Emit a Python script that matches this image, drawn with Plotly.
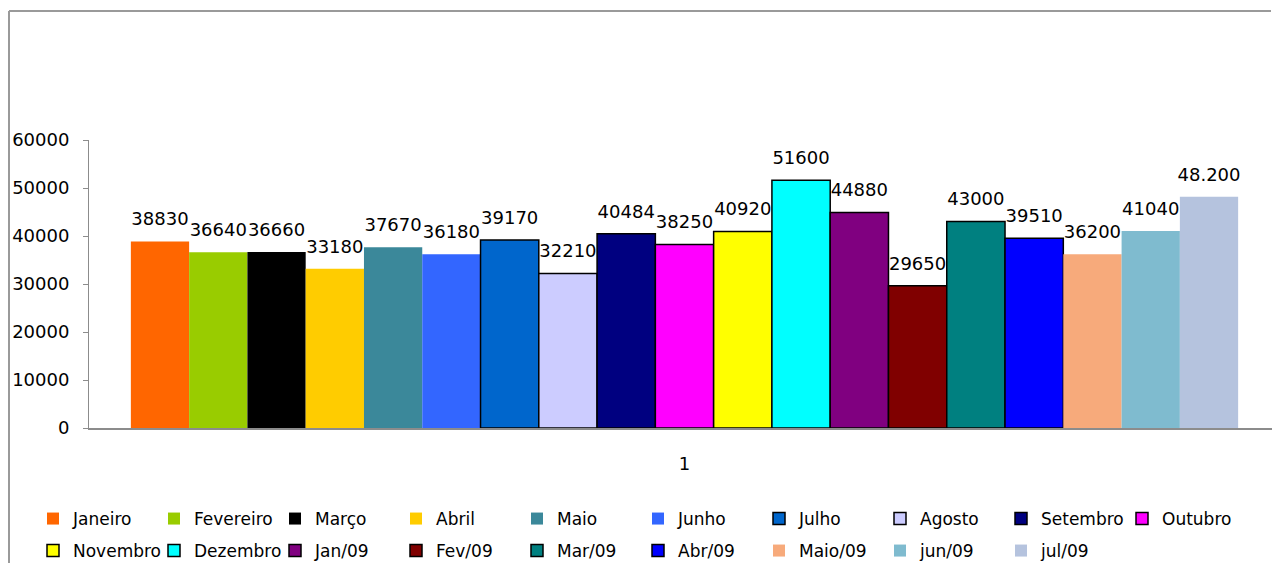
import plotly.graph_objects as go

# Monthly totals, one bar per month, all grouped under the single category "1"
category = ["1"]
months = ["Janeiro", "Fevereiro", "Março", "Abril", "Maio", "Junho", "Julho",
          "Agosto", "Setembro", "Outubro", "Novembro", "Dezembro", "Jan/09",
          "Fev/09", "Mar/09", "Abr/09", "Maio/09", "jun/09", "jul/09"]
values = [38830, 36640, 36660, 33180, 37670, 36180, 39170, 32210, 40484, 38250,
          40920, 51600, 44880, 29650, 43000, 39510, 36200, 41040, 48200]
labels = [str(v) for v in values[:-1]] + [f"{values[-1]:,}".replace(",", ".")]
colors = ["#FF6600", "#99CC00", "#000000", "#FFCC00", "#3B889A", "#3366FF",
          "#0066CC", "#CCCCFF", "#000080", "#FF00FF", "#FFFF00", "#00FFFF",
          "#800080", "#800000", "#008080", "#0000FF", "#F7AA7B", "#7FBBCF",
          "#B5C3DE"]
outlined = [False, False, False, False, False, False, True, True, True, True,
            True, True, True, True, True, True, False, False, False]
y_ticks = [0, 10000, 20000, 30000, 40000, 50000, 60000]

W, H = 1272, 563
ML, MR, MT, MB = 89, 0, 140, 135
PW, PH = W - ML - MR, H - MT - MB
FONT = "DejaVu Sans"
GAP = 0.064


def px_x(px):
    return (px - ML) / PW


def px_y(py):
    return (H - MB - py) / PH


fig = go.Figure()
for i, (m, v, c, o) in enumerate(zip(months, values, colors, outlined)):
    fig.add_trace(go.Bar(
        x=category, y=[v], name=m,
        marker=dict(color=c, line=dict(color="#000000", width=1.5 if o else 0)),
        legend="legend" if i < 10 else "legend2",
        hovertemplate=m + ": %{y}<extra></extra>",
    ))

# value labels above each bar, grouped the same way as the bars
for m, v, lab in zip(months, values, labels):
    fig.add_trace(go.Scatter(
        x=category, y=[v], text=[lab], mode="markers+text",
        textposition="top center",
        textfont=dict(family=FONT, size=18, color="#000000"),
        marker=dict(size=17, opacity=0),
        showlegend=False, cliponaxis=False, hoverinfo="skip",
    ))

legend_common = dict(
    orientation="h", entrywidth=76, entrywidthmode="pixels",
    font=dict(family=FONT, size=17, color="#000000"),
    bgcolor="rgba(0,0,0,0)", xanchor="left", yanchor="middle",
    x=px_x(33), traceorder="normal",
)

# shift the category window slightly so the bar group sits a little right of centre
shift = 4 / PW

fig.update_layout(
    width=W, height=H,
    margin=dict(l=ML, r=MR, t=MT, b=MB, pad=0, autoexpand=False),
    paper_bgcolor="#FFFFFF", plot_bgcolor="#FFFFFF",
    barmode="group", bargap=GAP, bargroupgap=0,
    scattermode="group", scattergap=GAP,
    showlegend=True,
    legend=dict(legend_common, y=px_y(519)),
    legend2=dict(legend_common, y=px_y(551)),
    xaxis=dict(
        type="category", showgrid=False, zeroline=False,
        range=[-0.5 - shift, 0.5 - shift],
        showline=True, linecolor="#8C8C8C", linewidth=1.5,
        ticks="", ticklabelstandoff=19,
        tickfont=dict(family=FONT, size=18, color="#000000"),
    ),
    yaxis=dict(
        range=[0, 60000], tickvals=y_ticks, ticktext=[str(t) for t in y_ticks],
        showgrid=False, zeroline=False,
        showline=True, linecolor="#8C8C8C", linewidth=1,
        ticks="outside", ticklen=5, tickcolor="#8C8C8C",
        ticklabelstandoff=10,
        tickfont=dict(family=FONT, size=18, color="#000000"),
    ),
    shapes=[
        # outer chart frame (top and left edges)
        dict(type="line", xref="paper", yref="paper",
             x0=px_x(9), x1=px_x(1271), y0=px_y(11), y1=px_y(11),
             line=dict(color="#9A9A9A", width=2)),
        dict(type="line", xref="paper", yref="paper",
             x0=px_x(9), x1=px_x(9), y0=px_y(11), y1=px_y(H + 2),
             line=dict(color="#9A9A9A", width=2)),
    ],
)

fig.write_html("out.html")
